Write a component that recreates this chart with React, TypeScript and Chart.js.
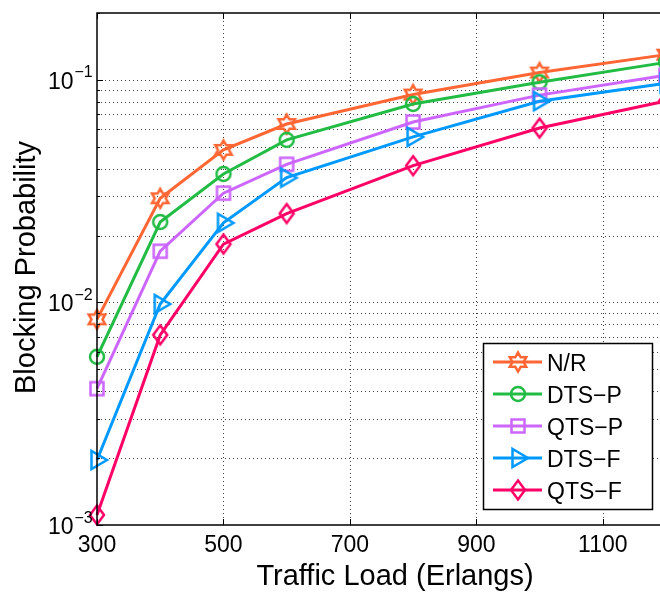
import React, { useEffect, useRef } from 'react';
import { Chart, registerables } from 'chart.js';

Chart.register(...registerables);

// ---- data ----
const loads = [300, 400, 500, 600, 800, 1000, 1200];
const nr = [0.0084, 0.0294, 0.0485, 0.0634, 0.086, 0.108, 0.13];
const dtsP = [0.0057, 0.023, 0.0378, 0.0538, 0.078, 0.0977, 0.12];
const qtsP = [0.0041, 0.017, 0.031, 0.0418, 0.0647, 0.0855, 0.105];
const dtsF = [0.00196, 0.00984, 0.0228, 0.0364, 0.0555, 0.0803, 0.0967];
const qtsF = [0.00111, 0.00715, 0.0183, 0.0251, 0.0412, 0.0608, 0.0804];

const seriesNames = ['N/R', 'DTS\u2212P', 'QTS\u2212P', 'DTS\u2212F', 'QTS\u2212F'];
const seriesValues = [nr, dtsP, qtsP, dtsF, qtsF];
const seriesColors = ['#FF6633', '#22BB44', '#CC66FF', '#0099FF', '#FF0066'];
const seriesMarkers = ['hexagram', 'circle', 'square', 'triangle', 'diamond'];

const xTicks = [300, 500, 700, 900, 1100];
const yMajor = [0.001, 0.01, 0.1];
const yMajorExp = ['\u22123', '\u22122', '\u22121'];
const yMinorMultipliers = [2, 3, 4, 5, 6, 7, 8, 9];

const xTitle = 'Traffic Load (Erlangs)';
const yTitle = 'Blocking Probability';

const FONT = '"Liberation Sans", Arial, Helvetica, sans-serif';

function makeMarker(kind: string, color: string): HTMLCanvasElement {
  const c = document.createElement('canvas');
  c.width = 30;
  c.height = 30;
  const g = c.getContext('2d') as CanvasRenderingContext2D;
  const cx = 15, cy = 15;
  g.strokeStyle = color;
  g.lineWidth = 2.5;
  g.lineJoin = 'miter';
  g.beginPath();
  if (kind === 'hexagram') {
    const R = 9.5, r = R / Math.sqrt(3);
    for (let k = 0; k < 12; k++) {
      const a = -Math.PI / 2 + (k * Math.PI) / 6;
      const rr = k % 2 === 0 ? R : r;
      const px = cx + rr * Math.cos(a), py = cy + rr * Math.sin(a);
      if (k === 0) g.moveTo(px, py); else g.lineTo(px, py);
    }
    g.closePath();
  } else if (kind === 'circle') {
    g.arc(cx, cy, 7, 0, Math.PI * 2);
  } else if (kind === 'square') {
    g.rect(cx - 6.5, cy - 6.5, 13, 13);
  } else if (kind === 'triangle') {
    g.moveTo(cx + 10, cy);
    g.lineTo(cx - 5.5, cy - 9);
    g.lineTo(cx - 5.5, cy + 9);
    g.closePath();
  } else if (kind === 'diamond') {
    g.moveTo(cx, cy - 9.5);
    g.lineTo(cx + 7, cy);
    g.lineTo(cx, cy + 9.5);
    g.lineTo(cx - 7, cy);
    g.closePath();
  }
  g.stroke();
  return c;
}

export default function App() {
  const ref = useRef<HTMLCanvasElement | null>(null);

  useEffect(() => {
    if (!ref.current) return;
    const markers = seriesMarkers.map((m, i) => makeMarker(m, seriesColors[i]));

    const yGrid: number[] = [];
    for (const d of yMajor) {
      yGrid.push(d);
      for (const m of yMinorMultipliers) yGrid.push(d * m);
    }

    const axesPlugin = {
      id: 'matlabAxes',
      beforeDatasetsDraw(chart: any) {
        const { ctx, chartArea: a, scales } = chart;
        const xs = scales.x, ys = scales.y;
        ctx.save();
        ctx.strokeStyle = 'rgba(0,0,0,0.75)';
        ctx.lineWidth = 1;
        ctx.setLineDash([1, 3]);
        for (const v of xTicks) {
          const px = Math.round(xs.getPixelForValue(v)) + 0.5;
          if (px - a.left < 2) continue;
          ctx.beginPath();
          ctx.moveTo(px, a.top);
          ctx.lineTo(px, a.bottom);
          ctx.stroke();
        }
        for (const v of yGrid) {
          const py = Math.round(ys.getPixelForValue(v)) + 0.5;
          if (py < a.top + 2 || py > a.bottom - 2) continue;
          ctx.beginPath();
          ctx.moveTo(a.left, py);
          ctx.lineTo(a.right, py);
          ctx.stroke();
        }
        ctx.restore();
      },
      afterDraw(chart: any) {
        const { ctx, chartArea: a, scales } = chart;
        const xs = scales.x, ys = scales.y;
        ctx.save();
        // axes box
        ctx.strokeStyle = '#000';
        ctx.lineWidth = 1.5;
        ctx.setLineDash([]);
        ctx.beginPath();
        ctx.rect(a.left, a.top, a.right - a.left, a.bottom - a.top);
        ctx.stroke();
        // ticks (inward)
        ctx.lineWidth = 1;
        for (const v of xTicks) {
          const px = Math.round(xs.getPixelForValue(v)) + 0.5;
          ctx.beginPath();
          ctx.moveTo(px, a.bottom);
          ctx.lineTo(px, a.bottom - 6);
          ctx.moveTo(px, a.top);
          ctx.lineTo(px, a.top + 6);
          ctx.stroke();
        }
        for (const v of yGrid) {
          const py = Math.round(ys.getPixelForValue(v)) + 0.5;
          const len = yMajor.includes(v) ? 6 : 3;
          ctx.beginPath();
          ctx.moveTo(a.left, py);
          ctx.lineTo(a.left + len, py);
          ctx.stroke();
        }
        // tick labels
        ctx.fillStyle = '#000';
        ctx.textBaseline = 'alphabetic';
        ctx.font = `23px ${FONT}`;
        ctx.textAlign = 'center';
        for (const v of xTicks) {
          ctx.fillText(String(v), xs.getPixelForValue(v), a.bottom + 27);
        }
        yMajor.forEach((v, i) => {
          const py = ys.getPixelForValue(v);
          ctx.font = `23px ${FONT}`;
          ctx.textAlign = 'right';
          ctx.fillText('10', 73.5, py + 9);
          ctx.font = `16px ${FONT}`;
          ctx.textAlign = 'left';
          ctx.fillText(yMajorExp[i], 74.5, py - 2.5);
        });
        // axis titles
        ctx.font = `29px ${FONT}`;
        ctx.textAlign = 'center';
        ctx.fillText(xTitle, 395, 585);
        ctx.save();
        ctx.translate(35, 267.5);
        ctx.rotate(-Math.PI / 2);
        ctx.fillText(yTitle, 0, 0);
        ctx.restore();
        // legend
        const lx = 483.5, ly = 343.5, lw = 169, lh = 166;
        ctx.fillStyle = '#fff';
        ctx.fillRect(lx, ly, lw, lh);
        ctx.strokeStyle = '#000';
        ctx.lineWidth = 1.5;
        ctx.strokeRect(lx, ly, lw, lh);
        seriesNames.forEach((name, i) => {
          const cy = 362 + i * 32;
          ctx.strokeStyle = seriesColors[i];
          ctx.lineWidth = 3;
          ctx.beginPath();
          ctx.moveTo(493, cy);
          ctx.lineTo(542, cy);
          ctx.stroke();
          const mk = markers[i];
          ctx.drawImage(mk, 518 - mk.width / 2, cy - mk.height / 2);
          ctx.fillStyle = '#000';
          ctx.font = `23px ${FONT}`;
          ctx.textAlign = 'left';
          ctx.fillText(name, 547, cy + 8.5);
        });
        ctx.restore();
      },
    };

    const chart = new Chart(ref.current, {
      type: 'line',
      data: {
        datasets: seriesNames.map((name, i) => ({
          label: name,
          data: loads.map((x, j) => ({ x, y: seriesValues[i][j] })),
          borderColor: seriesColors[i],
          backgroundColor: seriesColors[i],
          borderWidth: 3,
          pointStyle: markers[i] as any,
          pointRadius: 10,
          pointHoverRadius: 10,
          tension: 0,
          fill: false,
          clip: false as any,
          order: 5 - i,
        })),
      },
      options: {
        animation: false,
        responsive: false,
        devicePixelRatio: 1,
        events: [],
        layout: { padding: { left: 97, right: 34, top: 11, bottom: 69 } },
        plugins: { legend: { display: false }, tooltip: { enabled: false } },
        scales: {
          x: { type: 'linear', min: 300, max: 1200, display: false },
          y: { type: 'logarithmic', min: 0.001, max: 0.2, display: false },
        },
      },
      plugins: [axesPlugin],
    });
    return () => chart.destroy();
  }, []);

  return (
    <div
      style={{
        position: 'fixed',
        left: 0,
        top: 0,
        width: 660,
        height: 594,
        overflow: 'hidden',
        background: '#fff',
      }}
    >
      <canvas ref={ref} width={700} height={594} style={{ display: 'block' }} />
    </div>
  );
}
